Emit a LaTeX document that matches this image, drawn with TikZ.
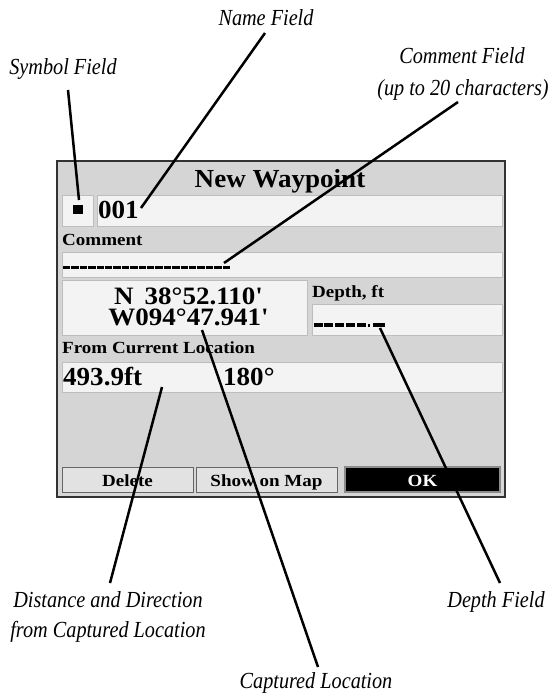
\documentclass[tikz,border=0pt]{standalone}
\usepackage{fontspec}
\setmainfont{Liberation Serif}
\newfontfamily\lblfont{Liberation Serif}[FakeStretch=0.88]
\newfontfamily\scrbig{Liberation Serif}[FakeStretch=1.04]
\newfontfamily\scrcoord{Liberation Serif}[FakeStretch=1.08]
\newfontfamily\scrsmall{Liberation Serif}[FakeStretch=1.12]
\definecolor{scrbg}{HTML}{D5D5D5}
\definecolor{fieldbg}{HTML}{F3F3F3}
\definecolor{fieldln}{HTML}{BDBDBD}
\definecolor{btnbg}{HTML}{E2E2E2}
\tikzset{
  callout/.style={font=\lblfont\itshape\fontsize{23}{30}\selectfont, inner sep=0pt, align=center},
  bigtxt/.style={font=\scrbig\bfseries\fontsize{26}{20}\selectfont, inner sep=0pt},
  coordtxt/.style={font=\scrcoord\bfseries\fontsize{25}{21}\selectfont, inner sep=0pt},
  smalltxt/.style={font=\scrsmall\bfseries\fontsize{17}{20}\selectfont, inner sep=0pt},
  fieldbox/.style={fill=fieldbg, draw=fieldln, line width=1pt},
  btnbox/.style={fill=btnbg, draw=black!60, line width=1pt},
  leader/.style={line width=2.5pt, black},
  dashbar/.style={fill=black}
}
\begin{document}
\begin{tikzpicture}[x=1pt,y=-1pt]
\useasboundingbox (0,0) rectangle (551,695);
% screen
\draw[fill=scrbg, draw=black!80, line width=1.5pt] (57,161) rectangle (505,497);
\draw[white!85!black, line width=0.8pt] (59,494) -- (502,494) -- (502,163);
\node[bigtxt, anchor=base] (title) at (280,187) {New Waypoint};
% symbol + name
\draw[fieldbox] (62,195) rectangle (93,226);
\fill[black] (73,205) rectangle (83,214);
\draw[fieldbox] (97,195) rectangle (502,226);
\node[bigtxt, anchor=base west] (name) at (98,218) {001};
% comment
\node[smalltxt, anchor=base west] (commentlbl) at (62,245) {Comment};
\draw[fieldbox] (62,252) rectangle (502,277);
\foreach \i in {0,...,19} {
  \fill[dashbar] ({63+\i*8.4},265.5) rectangle ({63+\i*8.4+7.4},269);
}
% coordinates
\draw[fieldbox] (62,280) rectangle (307,335);
\node[coordtxt, anchor=base, align=center] (coords) at (188.5,325) {N\hspace{11pt}38°52.110'\\W094°47.941'};
% depth
\node[smalltxt, anchor=base west] (depthlbl) at (312,297) {Depth, ft};
\draw[fieldbox] (312,304) rectangle (502,335);
\foreach \i in {0,...,4} {
  \fill[dashbar] ({313.5+\i*10.8},322.5) rectangle ({313.5+\i*10.8+9},326.5);
}
\fill[dashbar] (367.5,323.5) rectangle (370,326.5);
\fill[dashbar] (372.5,322.5) rectangle (384.5,326.5);
% distance
\node[smalltxt, anchor=base west] (fromlbl) at (62,353) {From Current Location};
\draw[fieldbox] (62,362) rectangle (502,392);
\node[bigtxt, anchor=base west] (dist) at (63,385) {493.9ft};
\node[bigtxt, anchor=base west] (dir) at (223,385) {180°};
% buttons
\draw[btnbox] (62,467) rectangle (193,492);
\node[smalltxt, anchor=base] (del) at (127.5,486) {Delete};
\draw[btnbox] (196,467) rectangle (337,492);
\node[smalltxt, anchor=base] (show) at (266.5,486) {Show on Map};
\draw[fill=black, draw=black!45, line width=1.5pt] (345,467) rectangle (500,492);
\node[smalltxt, anchor=base, text=white] (ok) at (422.5,486) {OK};
% callout labels
\node[callout, anchor=base] (symF) at (63,75) {Symbol Field};
\node[callout, anchor=base] (nameF) at (266,26) {Name Field};
\node[callout, anchor=base] (comF) at (462,64) {Comment Field};
\node[callout, anchor=base] (comF2) at (463,96) {(up to 20 characters)};
\node[callout, anchor=base] (distF) at (108,607) {Distance and Direction};
\node[callout, anchor=base] (distF2) at (108,637) {from Captured Location};
\node[callout, anchor=base] (capF) at (316,688) {Captured Location};
\node[callout, anchor=base] (depF) at (496,607) {Depth Field};
% leader ends
\coordinate (symA) at (68,90);   \coordinate (symB) at (79,200);
\coordinate (namA) at (265,33);  \coordinate (namB) at (141,208);
\coordinate (comA) at (458,102); \coordinate (comB) at (224,263);
\coordinate (dstA) at (110,583); \coordinate (dstB) at (162,387);
\coordinate (capA) at (318,667); \coordinate (capB) at (202,330);
\coordinate (depA) at (500,583); \coordinate (depB) at (380,328);
\draw[leader] (symA) -- (symB);
\draw[leader] (namA) -- (namB);
\draw[leader] (comA) -- (comB);
\draw[leader] (dstA) -- (dstB);
\draw[leader] (capA) -- (capB);
\draw[leader] (depA) -- (depB);
\end{tikzpicture}
\end{document}
